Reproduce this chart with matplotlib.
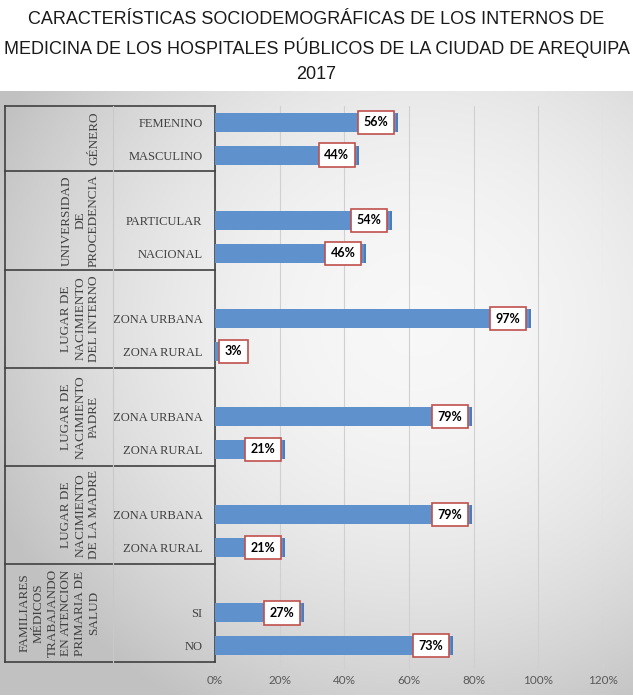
import numpy as np
import matplotlib
matplotlib.use('Agg')
import matplotlib.pyplot as plt
import matplotlib.transforms as mtransforms

# data
title = ('CARACTERÍSTICAS SOCIODEMOGRÁFICAS DE LOS INTERNOS DE\n'
         'MEDICINA DE LOS HOSPITALES PÚBLICOS DE LA CIUDAD DE AREQUIPA\n'
         '2017')
groups = ['GÉNERO',
          'UNIVERSIDAD\nDE\nPROCEDENCIA',
          'LUGAR DE\nNACIMIENTO\nDEL INTERNO',
          'LUGAR DE\nNACIMIENTO\nPADRE',
          'LUGAR DE\nNACIMIENTO\nDE LA MADRE',
          'FAMILIARES\nMÉDICOS\nTRABAJANDO\nEN ATENCION\nPRIMARIA DE\nSALUD']
categories = [['FEMENINO', 'MASCULINO'],
              ['PARTICULAR', 'NACIONAL'],
              ['ZONA URBANA', 'ZONA RURAL'],
              ['ZONA URBANA', 'ZONA RURAL'],
              ['ZONA URBANA', 'ZONA RURAL'],
              ['SI', 'NO']]
values = [[0.56, 0.44],
          [0.54, 0.46],
          [0.97, 0.03],
          [0.79, 0.21],
          [0.79, 0.21],
          [0.27, 0.73]]
xticks = [0, 0.2, 0.4, 0.6, 0.8, 1.0, 1.2]

# slot positions, top to bottom; every group after the first has an empty slot on top
n_slots = 2 + 3 * (len(groups) - 1)
pos = n_slots - 1
ys, labs, vals, group_spans = [], [], [], []
for gi, (cats, vs) in enumerate(zip(categories, values)):
    top = pos + 0.5
    if gi > 0:
        ys.append(pos); labs.append(''); vals.append(None)
        pos -= 1
    for c, v in zip(cats, vs):
        ys.append(pos); labs.append(c); vals.append(v)
        pos -= 1
    group_spans.append((pos + 0.5, top))

W, H = 633, 699
fig = plt.figure(figsize=(W / 100, H / 100), dpi=100)

# gray gradient background of the chart area
bg = fig.add_axes([0, 4 / H, 1, 604 / H], zorder=-10)
gx, gy = np.meshgrid(np.linspace(0, 1, 300), np.linspace(0, 1, 300))
r2 = ((gx - 0.66) / 0.75) ** 2 + ((gy - 0.62) / 0.75) ** 2
shade = np.clip(0.97 - 0.22 * r2, 0.76, 0.97)
bg.imshow(np.dstack([shade] * 3), aspect='auto', origin='lower', extent=[0, 1, 0, 1])
bg.axis('off')

fig.text(0.5, 1 - 11 / H, title, ha='center', va='top', fontsize=13,
         family='Liberation Sans', color='#1a1a1a', linespacing=1.6)

ax = fig.add_axes([215 / W, 1 - 662 / H, 388 / W, 556 / H])
ax.patch.set_alpha(0)
ax.set_xlim(0, 1.2)
ax.set_ylim(-0.5, n_slots - 0.5)

blue = '#5F92CD'
for y, v in zip(ys, vals):
    if v is None:
        continue
    ax.barh(y, v, height=0.58, color=blue, zorder=3)
    ax.barh(y, 0.006, left=v, height=0.58, color='#4C7DB8', zorder=3)
    if v < 0.1:
        xy, off, ha = (0, y), 10, 'left'
    else:
        xy, off, ha = (v, y), -8, 'right'
    ax.annotate(f'{v:.0%}', xy=xy, xytext=(off, 0), textcoords='offset pixels',
                ha=ha, va='center', fontsize=9, fontweight='bold', family='Lato',
                color='black', zorder=5,
                bbox=dict(boxstyle='square,pad=0.45', fc='white', ec='#C0504D', lw=1.2))

ax.set_xticks(xticks)
ax.set_xticklabels([f'{t:.0%}' for t in xticks], family='Lato', fontsize=8.5, color='#595959')
ax.tick_params(axis='x', length=4, color='#d0d0d0', pad=5)
ax.grid(axis='x', color='#d0d0d0', lw=0.8, zorder=0)
ax.set_yticks(ys)
ax.set_yticklabels(labs, family='Liberation Serif', fontsize=9, color='#404040')
ax.tick_params(axis='y', length=0, pad=9)
for s in ['top', 'right', 'bottom']:
    ax.spines[s].set_visible(False)
ax.spines['left'].set_color('#404040')
ax.spines['left'].set_linewidth(1.2)

# table of group labels on the left
trans = mtransforms.blended_transform_factory(fig.transFigure, ax.transData)
x_left, x_mid, x_right = 5 / W, 113 / W, 215 / W
edges = sorted({e for span in group_spans for e in span})
for e in edges:
    ax.plot([x_left, x_right], [e, e], transform=trans, color='#404040', lw=1.2, clip_on=False)
ax.plot([x_left, x_left], [edges[0], edges[-1]], transform=trans, color='#404040', lw=1.2, clip_on=False)
ax.plot([x_mid, x_mid], [edges[0], edges[-1]], transform=trans, color='#c8c8c8', lw=0.8, clip_on=False)
for g, (lo, hi) in zip(groups, group_spans):
    ax.text(100 / W, (lo + hi) / 2, g, transform=trans, rotation=90, ha='right', va='center',
            multialignment='center', family='Liberation Serif', fontsize=9.5,
            color='#404040', linespacing=1.2)

fig.savefig('out.png', dpi=100)
